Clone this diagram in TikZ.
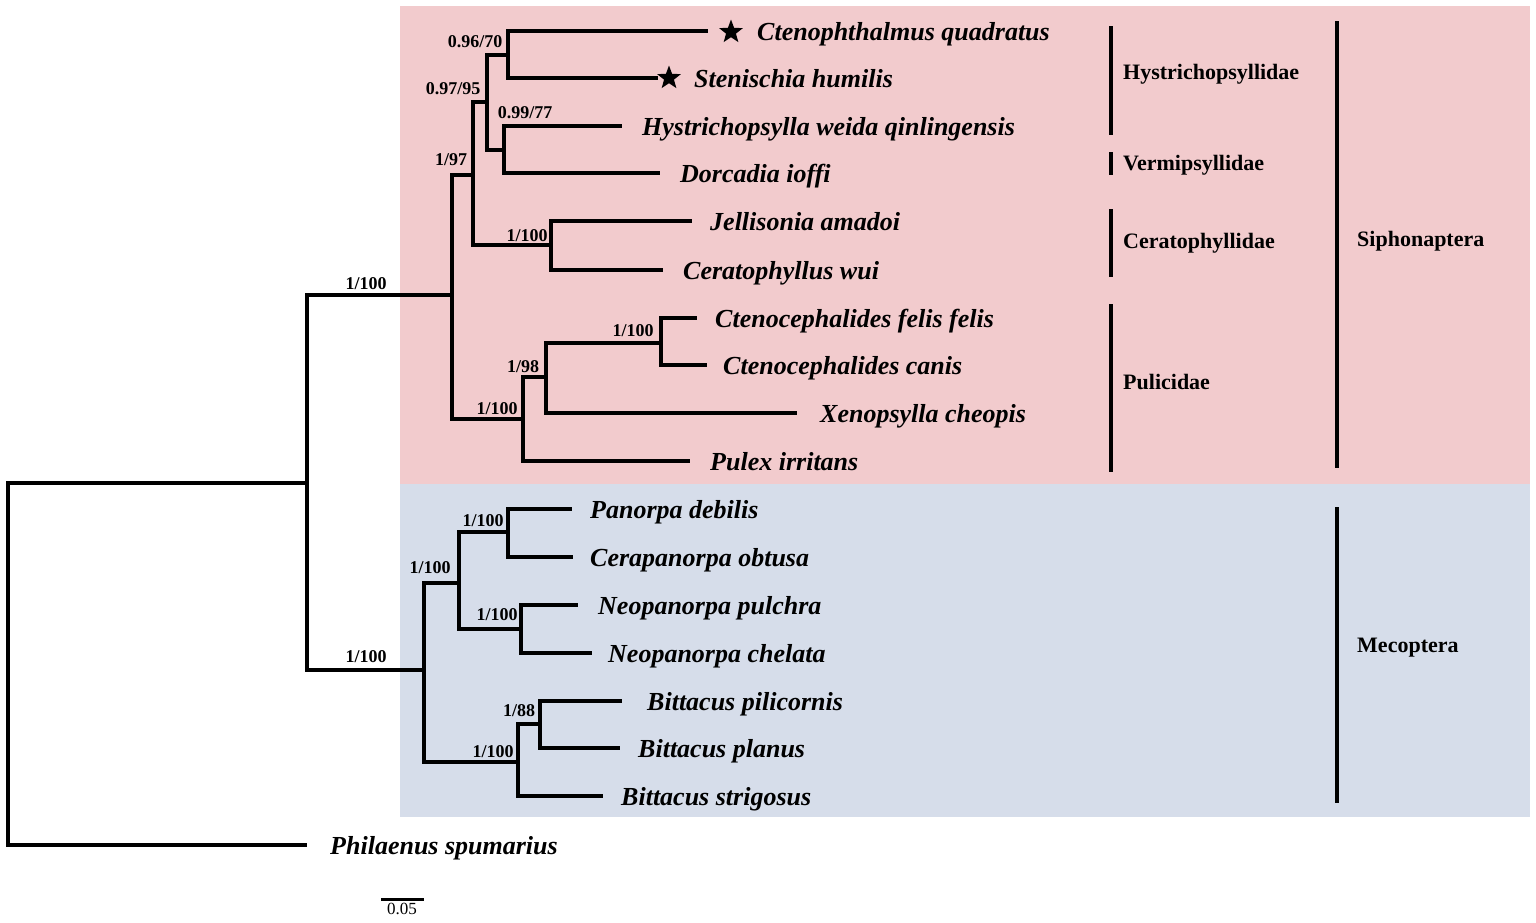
\documentclass[tikz,border=0pt]{standalone}
\usepackage{fontspec}
\setmainfont{Liberation Serif}
\usetikzlibrary{shapes.geometric}
\definecolor{siphbg}{RGB}{242,203,205}
\definecolor{mecobg}{RGB}{214,221,234}
\begin{document}
\begin{tikzpicture}[x=1pt,y=-1pt,
  br/.style={line width=3.3pt},
  sp/.style={font=\fontsize{26}{30}\selectfont\bfseries\itshape, anchor=base west, inner sep=0pt},
  sup/.style={font=\fontsize{18}{20}\selectfont\bfseries, anchor=base, inner sep=0pt},
  fam/.style={font=\fontsize{22}{24}\selectfont\bfseries, anchor=mid west, inner sep=0pt},
  cladebar/.style={line width=4.2pt},
  starmark/.style={star, star points=5, star point ratio=2.4, fill=black, draw=none, inner sep=0pt, minimum size=25pt}]
\useasboundingbox (0,0) rectangle (1536,922);
% backgrounds
\fill[siphbg] (400,6) rectangle (1530,484);
\fill[mecobg] (400,484) rectangle (1530,817);

% internal nodes
\coordinate (root) at (8,664);
\coordinate (n1) at (307,483);
\coordinate (S) at (452,295);
\coordinate (A) at (473,175);
\coordinate (B) at (487,102);
\coordinate (D) at (508,55);
\coordinate (E) at (504,150);
\coordinate (C) at (551,245);
\coordinate (P) at (523,419);
\coordinate (F) at (546,377);
\coordinate (G) at (661,343);
\coordinate (M) at (424,670);
\coordinate (H) at (459,583);
\coordinate (I) at (508,532);
\coordinate (J) at (521,629);
\coordinate (K) at (518,762);
\coordinate (L) at (540,724);
% leaf tips
\coordinate (tCq) at (708,31);
\coordinate (tSh) at (658,78);
\coordinate (tHw) at (622,126);
\coordinate (tDi) at (660,173);
\coordinate (tJa) at (692,221);
\coordinate (tCw) at (663,270);
\coordinate (tCf) at (697,318);
\coordinate (tCc) at (707,365);
\coordinate (tXc) at (797,413);
\coordinate (tPi) at (690,461);
\coordinate (tPd) at (572,509);
\coordinate (tCo) at (573,557);
\coordinate (tNp) at (578,605);
\coordinate (tNc) at (592,653);
\coordinate (tBpi) at (622,701);
\coordinate (tBpl) at (620,748);
\coordinate (tBs) at (603,796);
\coordinate (tPs) at (307,845);

% branches
\draw[br] (root) |- (n1);
\draw[br] (root) |- (tPs);
\draw[br] (n1) |- (S);
\draw[br] (n1) |- (M);
\draw[br] (S) |- (A);
\draw[br] (S) |- (P);
\draw[br] (A) |- (B);
\draw[br] (A) |- (C);
\draw[br] (B) |- (D);
\draw[br] (B) |- (E);
\draw[br] (D) |- (tCq);
\draw[br] (D) |- (tSh);
\draw[br] (E) |- (tHw);
\draw[br] (E) |- (tDi);
\draw[br] (C) |- (tJa);
\draw[br] (C) |- (tCw);
\draw[br] (P) |- (F);
\draw[br] (P) |- (tPi);
\draw[br] (F) |- (G);
\draw[br] (F) |- (tXc);
\draw[br] (G) |- (tCf);
\draw[br] (G) |- (tCc);
\draw[br] (M) |- (H);
\draw[br] (M) |- (K);
\draw[br] (H) |- (I);
\draw[br] (H) |- (J);
\draw[br] (I) |- (tPd);
\draw[br] (I) |- (tCo);
\draw[br] (J) |- (tNp);
\draw[br] (J) |- (tNc);
\draw[br] (K) |- (L);
\draw[br] (K) |- (tBs);
\draw[br] (L) |- (tBpi);
\draw[br] (L) |- (tBpl);

% support values
\node[sup] (s1) at (366,289) {1/100};
\node[sup] (s2) at (366,662) {1/100};
\node[sup] (s3) at (451,165) {1/97};
\node[sup] (s4) at (453,94) {0.97/95};
\node[sup] (s5) at (475,47) {0.96/70};
\node[sup] (s6) at (525,118) {0.99/77};
\node[sup] (s7) at (527,241) {1/100};
\node[sup] (s8) at (497,414) {1/100};
\node[sup] (s9) at (523,372) {1/98};
\node[sup] (s10) at (633,336) {1/100};
\node[sup] (s11) at (430,573) {1/100};
\node[sup] (s12) at (483,526) {1/100};
\node[sup] (s13) at (497,620) {1/100};
\node[sup] (s14) at (493,757) {1/100};
\node[sup] (s15) at (519,716) {1/88};

% stars
\node[starmark] (stCq) at (731,32) {};
\node[starmark] (stSh) at (669,78) {};

% species
\node[sp] (lCq) at (757,40.5) {Ctenophthalmus quadratus};
\node[sp] (lSh) at (694,87.5) {Stenischia humilis};
\node[sp] (lHw) at (642,135.5) {Hystrichopsylla weida qinlingensis};
\node[sp] (lDi) at (680,182.5) {Dorcadia ioffi};
\node[sp] (lJa) at (710,230.5) {Jellisonia amadoi};
\node[sp] (lCw) at (683,279.5) {Ceratophyllus wui};
\node[sp] (lCf) at (715,327.5) {Ctenocephalides felis felis};
\node[sp] (lCc) at (723,374.5) {Ctenocephalides canis};
\node[sp] (lXc) at (820,422.5) {Xenopsylla cheopis};
\node[sp] (lPi) at (710,470.5) {Pulex irritans};
\node[sp] (lPd) at (590,518.5) {Panorpa debilis};
\node[sp] (lCo) at (590,566.5) {Cerapanorpa obtusa};
\node[sp] (lNp) at (598,614.5) {Neopanorpa pulchra};
\node[sp] (lNc) at (608,662.5) {Neopanorpa chelata};
\node[sp] (lBpi) at (647,710.5) {Bittacus pilicornis};
\node[sp] (lBpl) at (638,757.5) {Bittacus planus};
\node[sp] (lBs) at (621,805.5) {Bittacus strigosus};
\node[sp] (lPs) at (330,854.5) {Philaenus spumarius};

% clade bars
\draw[cladebar] (1111,26) -- (1111,135);
\draw[cladebar] (1111,152) -- (1111,175);
\draw[cladebar] (1111,209) -- (1111,277);
\draw[cladebar] (1111,304) -- (1111,472);
\draw[cladebar] (1337,21) -- (1337,468);
\draw[cladebar] (1337,507) -- (1337,803);
\node[fam] (fHy) at (1123,77) {Hystrichopsyllidae};
\node[fam] (fVe) at (1123,168) {Vermipsyllidae};
\node[fam] (fCe) at (1123,246) {Ceratophyllidae};
\node[fam] (fPu) at (1123,387) {Pulicidae};
\node[fam] (fSi) at (1357,244) {Siphonaptera};
\node[fam] (fMe) at (1357,650) {Mecoptera};

% scale bar
\coordinate (sbL) at (381,899);
\coordinate (sbR) at (424,899);
\draw[line width=3pt] (sbL) -- (sbR);
\node[font=\fontsize{17}{19}\selectfont, anchor=base, inner sep=0pt] (sbt) at (402,914) {0.05};
\end{tikzpicture}
\end{document}
